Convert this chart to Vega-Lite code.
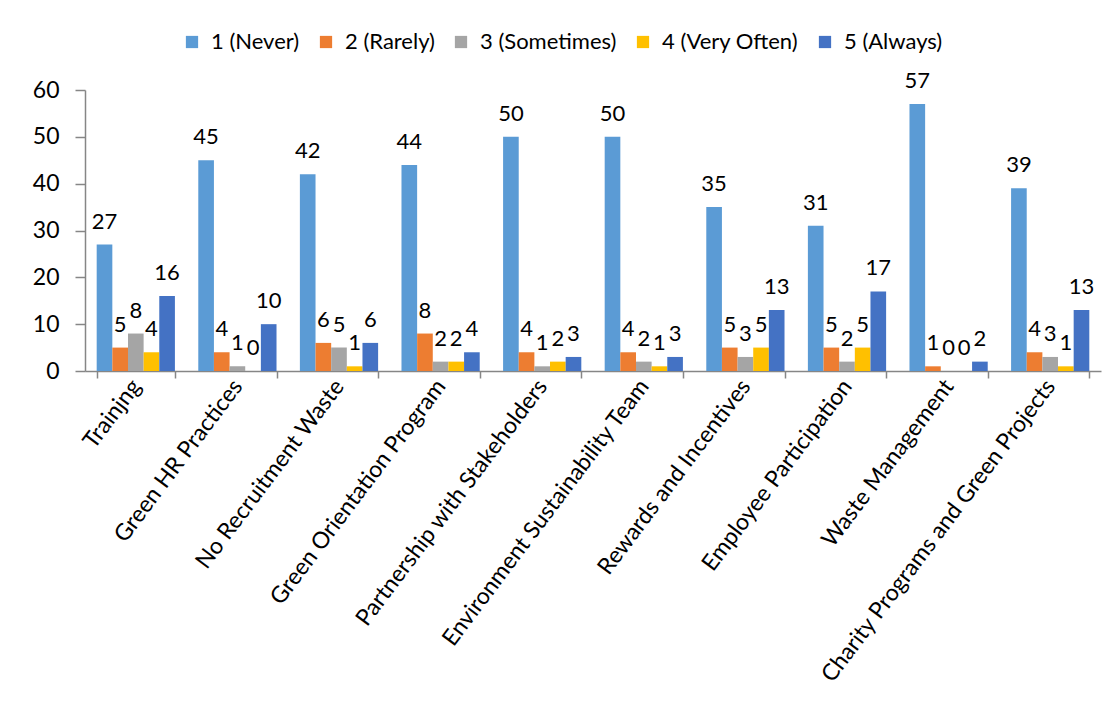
{
  "$schema": "https://vega.github.io/schema/vega-lite/v6.json",
  "width": 1016,
  "height": 281,
  "autosize": {"type": "none"},
  "padding": {"left": 85, "top": 90, "right": 8, "bottom": 330},
  "background": "white",
  "config": {"view": {"stroke": null}, "font": "Lato"},
  "data": {
    "values": [
      {"item": "Trainjng", "level": "1 (Never)", "value": 27},
      {"item": "Trainjng", "level": "2 (Rarely)", "value": 5},
      {"item": "Trainjng", "level": "3 (Sometimes)", "value": 8},
      {"item": "Trainjng", "level": "4 (Very Often)", "value": 4},
      {"item": "Trainjng", "level": "5 (Always)", "value": 16},
      {"item": "Green HR Practices", "level": "1 (Never)", "value": 45},
      {"item": "Green HR Practices", "level": "2 (Rarely)", "value": 4},
      {"item": "Green HR Practices", "level": "3 (Sometimes)", "value": 1},
      {"item": "Green HR Practices", "level": "4 (Very Often)", "value": 0},
      {"item": "Green HR Practices", "level": "5 (Always)", "value": 10},
      {"item": "No Recruitment Waste", "level": "1 (Never)", "value": 42},
      {"item": "No Recruitment Waste", "level": "2 (Rarely)", "value": 6},
      {"item": "No Recruitment Waste", "level": "3 (Sometimes)", "value": 5},
      {"item": "No Recruitment Waste", "level": "4 (Very Often)", "value": 1},
      {"item": "No Recruitment Waste", "level": "5 (Always)", "value": 6},
      {"item": "Green Orientation Program", "level": "1 (Never)", "value": 44},
      {"item": "Green Orientation Program", "level": "2 (Rarely)", "value": 8},
      {"item": "Green Orientation Program", "level": "3 (Sometimes)", "value": 2},
      {"item": "Green Orientation Program", "level": "4 (Very Often)", "value": 2},
      {"item": "Green Orientation Program", "level": "5 (Always)", "value": 4},
      {"item": "Partnership with Stakeholders", "level": "1 (Never)", "value": 50},
      {"item": "Partnership with Stakeholders", "level": "2 (Rarely)", "value": 4},
      {"item": "Partnership with Stakeholders", "level": "3 (Sometimes)", "value": 1},
      {"item": "Partnership with Stakeholders", "level": "4 (Very Often)", "value": 2},
      {"item": "Partnership with Stakeholders", "level": "5 (Always)", "value": 3},
      {"item": "Environment Sustainability Team", "level": "1 (Never)", "value": 50},
      {"item": "Environment Sustainability Team", "level": "2 (Rarely)", "value": 4},
      {"item": "Environment Sustainability Team", "level": "3 (Sometimes)", "value": 2},
      {"item": "Environment Sustainability Team", "level": "4 (Very Often)", "value": 1},
      {"item": "Environment Sustainability Team", "level": "5 (Always)", "value": 3},
      {"item": "Rewards and Incentives", "level": "1 (Never)", "value": 35},
      {"item": "Rewards and Incentives", "level": "2 (Rarely)", "value": 5},
      {"item": "Rewards and Incentives", "level": "3 (Sometimes)", "value": 3},
      {"item": "Rewards and Incentives", "level": "4 (Very Often)", "value": 5},
      {"item": "Rewards and Incentives", "level": "5 (Always)", "value": 13},
      {"item": "Employee Participation", "level": "1 (Never)", "value": 31},
      {"item": "Employee Participation", "level": "2 (Rarely)", "value": 5},
      {"item": "Employee Participation", "level": "3 (Sometimes)", "value": 2},
      {"item": "Employee Participation", "level": "4 (Very Often)", "value": 5},
      {"item": "Employee Participation", "level": "5 (Always)", "value": 17},
      {"item": "Waste Management", "level": "1 (Never)", "value": 57},
      {"item": "Waste Management", "level": "2 (Rarely)", "value": 1},
      {"item": "Waste Management", "level": "3 (Sometimes)", "value": 0},
      {"item": "Waste Management", "level": "4 (Very Often)", "value": 0},
      {"item": "Waste Management", "level": "5 (Always)", "value": 2},
      {"item": "Charity Programs and Green Projects", "level": "1 (Never)", "value": 39},
      {"item": "Charity Programs and Green Projects", "level": "2 (Rarely)", "value": 4},
      {"item": "Charity Programs and Green Projects", "level": "3 (Sometimes)", "value": 3},
      {"item": "Charity Programs and Green Projects", "level": "4 (Very Often)", "value": 1},
      {"item": "Charity Programs and Green Projects", "level": "5 (Always)", "value": 13}
    ]
  },
  "encoding": {
    "x": {
      "field": "item",
      "type": "nominal",
      "sort": null,
      "scale": {"paddingInner": 0.23, "paddingOuter": 0.115},
      "axis": {
        "title": null,
        "labelAngle": -53,
        "labelAlign": "right",
        "labelBaseline": "middle",
        "labelFontSize": 23,
        "labelColor": "#000000",
        "labelPadding": 4,
        "tickBand": "extent",
        "tickSize": 7,
        "tickColor": "#868686",
        "tickWidth": 1.5,
        "domainColor": "#868686",
        "domainWidth": 1.5,
        "labelLimit": 600,
        "labelOverlap": false
      }
    },
    "xOffset": {"field": "level", "type": "nominal", "sort": null},
    "y": {
      "field": "value",
      "type": "quantitative",
      "scale": {"domain": [0, 60]},
      "axis": {
        "title": null,
        "values": [0, 10, 20, 30, 40, 50, 60],
        "grid": false,
        "tickSize": 10,
        "tickColor": "#868686",
        "tickWidth": 1.5,
        "domainColor": "#868686",
        "domainWidth": 1.5,
        "labelFontSize": 23,
        "labelColor": "#000000",
        "labelPadding": 16
      }
    }
  },
  "layer": [
    {
      "mark": {"type": "bar"},
      "encoding": {
        "color": {
          "field": "level",
          "type": "nominal",
          "sort": null,
          "scale": {
            "domain": ["1 (Never)", "2 (Rarely)", "3 (Sometimes)", "4 (Very Often)", "5 (Always)"],
            "range": ["#5B9BD5", "#ED7D31", "#A5A5A5", "#FFC000", "#4472C4"]
          },
          "legend": {
            "title": null,
            "orient": "none",
            "direction": "horizontal",
            "legendX": 96,
            "legendY": -59,
            "symbolType": "square",
            "symbolSize": 150,
            "symbolStrokeWidth": 0,
            "labelFontSize": 22,
            "labelColor": "#000000",
            "columnPadding": 15,
            "labelOffset": 8
          }
        }
      }
    },
    {
      "mark": {"type": "text", "baseline": "alphabetic", "dy": -16, "fontSize": 22, "color": "#000000"},
      "encoding": {"text": {"field": "value", "type": "quantitative"}}
    }
  ]
}
